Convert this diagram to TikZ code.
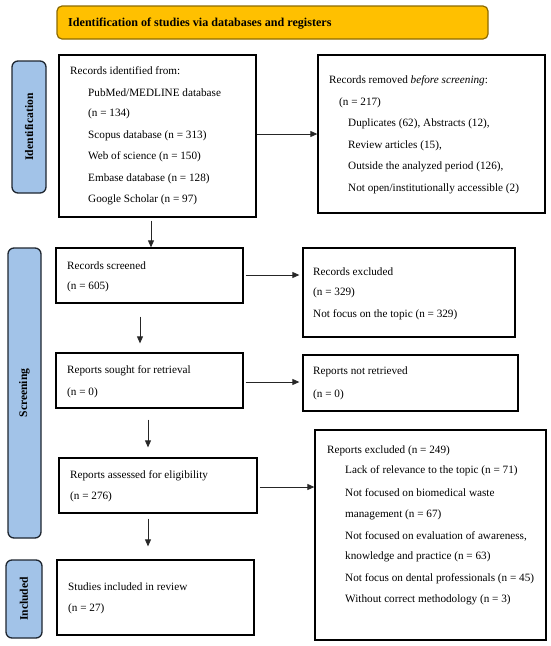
\documentclass[tikz,border=0pt]{standalone}
\usepackage{fontspec}
\setmainfont{Liberation Serif}
\usetikzlibrary{arrows.meta}
\definecolor{hdrfill}{HTML}{FFC000}
\definecolor{hdrdraw}{HTML}{8C6A00}
\definecolor{lblfill}{HTML}{A2C3E8}
\definecolor{lbldraw}{HTML}{1E2630}
\tikzset{
  box/.style={draw=black, line width=1.3pt, rectangle, inner sep=0pt},
  hdr/.style={draw=hdrdraw, fill=hdrfill, line width=1.2pt, rounded corners=5pt, inner sep=0pt},
  lbl/.style={draw=lbldraw, fill=lblfill, line width=1.3pt, rounded corners=6pt, inner sep=0pt},
  lbltxt/.style={rotate=90, font=\fontsize{11.6}{13}\selectfont\bfseries, inner sep=0pt},
  txt/.style={anchor=west, inner sep=0pt, font=\fontsize{11.2}{13}\selectfont},
  arr/.style={-{Triangle[length=7pt,width=6pt]}, line width=0.8pt, draw=black!85}
}
\begin{document}
\begin{tikzpicture}[x=1pt,y=-1pt]
\useasboundingbox (0,0) rectangle (550,646);
% header
\node[hdr, minimum width=431pt, minimum height=33pt] (head) at (272.5,22.5) {};
\node[txt, font=\fontsize{12.1}{14}\selectfont\bfseries] (headt) at (68,24) {Identification of studies via databases and registers};
% side labels
\node[lbl, minimum width=34pt, minimum height=132pt] (lid) at (29,127) {};
\node[lbltxt] (lidt) at (29,127) {Identification};
\node[lbl, minimum width=33pt, minimum height=290pt] (lsc) at (24.5,393) {};
\node[lbltxt] (lsct) at (24.5,393) {Screening};
\node[lbl, minimum width=36pt, minimum height=78pt] (lin) at (24,599) {};
\node[lbltxt] (lint) at (24,599) {Included};
% boxes
\node[box, minimum width=197pt, minimum height=162pt] (ident) at (157.5,136) {};
\node[box, minimum width=227pt, minimum height=158pt] (removed) at (431.5,134) {};
\node[box, minimum width=187pt, minimum height=55pt] (screened) at (149.5,275.5) {};
\node[box, minimum width=212pt, minimum height=89pt] (excl1) at (409,292.5) {};
\node[box, minimum width=187pt, minimum height=55pt] (sought) at (149.5,380.5) {};
\node[box, minimum width=215pt, minimum height=56pt] (notret) at (410.5,383) {};
\node[box, minimum width=198pt, minimum height=55pt] (assessed) at (158,485.5) {};
\node[box, minimum width=231pt, minimum height=210pt] (excl2) at (430.5,535) {};
\node[box, minimum width=197pt, minimum height=75pt] (studies) at (155.5,597.5) {};
% texts: identified
\node[txt] (t1a) at (70,71) {Records identified from:};
\node[txt] (t1b) at (88,93) {PubMed/MEDLINE database};
\node[txt] (t1c) at (88,114) {(n = 134)};
\node[txt] (t1d) at (88,136) {Scopus database (n = 313)};
\node[txt] (t1e) at (88,157) {Web of science (n = 150)};
\node[txt] (t1f) at (88,179) {Embase database (n = 128)};
\node[txt] (t1g) at (88,200) {Google Scholar (n = 97)};
% removed
\node[txt] (t2a) at (329,81) {Records removed \textit{before screening}:};
\node[txt] (t2b) at (339,103) {(n = 217)};
\node[txt] (t2c) at (348,124) {Duplicates (62), Abstracts (12),};
\node[txt] (t2d) at (348,146) {Review articles (15),};
\node[txt] (t2e) at (348,167) {Outside the analyzed period (126),};
\node[txt] (t2f) at (348,189) {Not open/institutionally accessible (2)};
% screened
\node[txt] (t3a) at (67,266) {Records screened};
\node[txt] (t3b) at (67,287) {(n = 605)};
\node[txt] (t4a) at (313,272) {Records excluded};
\node[txt] (t4b) at (313,293) {(n = 329)};
\node[txt] (t4c) at (313,315) {Not focus on the topic (n = 329)};
% sought
\node[txt] (t5a) at (67,371) {Reports sought for retrieval};
\node[txt] (t5b) at (67,393) {(n = 0)};
\node[txt] (t6a) at (313,372) {Reports not retrieved};
\node[txt] (t6b) at (313,395) {(n = 0)};
% assessed
\node[txt] (t7a) at (70,476) {Reports assessed for eligibility};
\node[txt] (t7b) at (70,497) {(n = 276)};
\node[txt] (t8a) at (327,451) {Reports excluded (n = 249)};
\node[txt] (t8b) at (345,471) {Lack of relevance to the topic (n = 71)};
\node[txt] (t8c) at (345,493) {Not focused on biomedical waste};
\node[txt] (t8d) at (345,515) {management (n = 67)};
\node[txt] (t8e) at (345,536) {Not focused on evaluation of awareness,};
\node[txt] (t8f) at (345,557) {knowledge and practice (n = 63)};
\node[txt] (t8g) at (345,579) {Not focus on dental professionals (n = 45)};
\node[txt] (t8h) at (345,600) {Without correct methodology (n = 3)};
% studies
\node[txt] (t9a) at (68,587) {Studies included in review};
\node[txt] (t9b) at (68,609) {(n = 27)};
% connector helper coordinates
\coordinate (x151) at (151,0);
\coordinate (x140) at (140,0);
\coordinate (x148) at (148,0);
\coordinate (y134) at (0,134);
\coordinate (y275) at (0,275);
\coordinate (y382) at (0,382);
\coordinate (y487) at (0,487);
% arrows
\draw[arr, shorten <=3pt] (ident.south -| x151) -- (screened.north -| x151);
\draw[arr] (ident.east |- y134) -- (removed.west |- y134);
\draw[arr, shorten <=2pt, shorten >=3pt] (screened.east |- y275) -- (excl1.west |- y275);
\draw[arr, shorten <=13pt, shorten >=9pt] (screened.south -| x140) -- (sought.north -| x140);
\draw[arr, shorten <=2pt, shorten >=3pt] (sought.east |- y382) -- (notret.west |- y382);
\draw[arr, shorten <=11pt, shorten >=10pt] (sought.south -| x148) -- (assessed.north -| x148);
\draw[arr, shorten <=2pt] (assessed.east |- y487) -- (excl2.west |- y487);
\draw[arr, shorten <=5pt, shorten >=13pt] (assessed.south -| x148) -- (studies.north -| x148);
\end{tikzpicture}
\end{document}
